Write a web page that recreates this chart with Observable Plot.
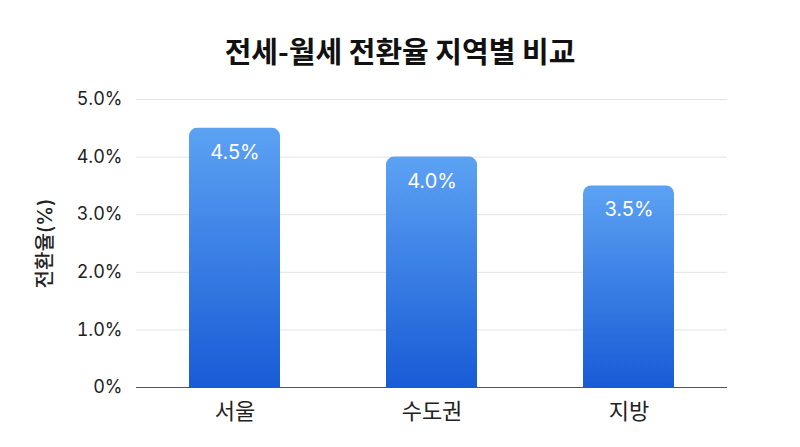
<!DOCTYPE html>
<html><head><meta charset="utf-8">
<script src="https://cdn.jsdelivr.net/npm/d3@7"></script>
<script src="https://cdn.jsdelivr.net/npm/@observablehq/plot@0.6"></script>
<style>
body{margin:0;background:#fff;font-family:"Noto Sans CJK KR","Noto Sans",sans-serif;}
#title{height:64px;padding-top:18px;line-height:64px;text-align:center;font-size:29px;font-weight:700;color:#111;}
</style></head><body>
<div id="title">전세-월세 전환율 지역별 비교</div>
<div id="chart"></div>
<script>
const regions = ["서울", "수도권", "지방"];
const rates = [4.5, 4.0, 3.5];
const yTicks = [0, 1, 2, 3, 4, 5];
const data = regions.map((r, i) => ({region: r, rate: rates[i]}));

const plot = Plot.plot({
  width: 800, height: 365,
  marginLeft: 136, marginRight: 73, marginTop: 17, marginBottom: 60,
  style: {fontFamily: 'Inter,"Noto Sans CJK KR","Noto Sans",sans-serif', fontSize: "18px", color: "#222"},
  x: {domain: regions, paddingInner: 0.54, paddingOuter: 0.27, label: null},
  y: {domain: [0, 5], label: null},
  marks: [
    Plot.ruleY(yTicks.filter(d => d > 0), {stroke: "#e3e3e3", strokeWidth: 1}),
    Plot.axisY({ticks: yTicks, tickSize: 0, tickPadding: 14,
      tickFormat: d => d === 0 ? "0%" : d.toFixed(1) + "%"}),
    Plot.axisX({tickSize: 0, tickPadding: 16}),
    Plot.text(["전환율(%)"], {frameAnchor: "left", dx: -91, rotate: -90, textAnchor: "middle", fontSize: 20, fontWeight: 500, fill: "#222"}),
    Plot.barY(data, {x: "region", y: "rate", fill: "url(#barGrad)", ry1: 8, rx: 0}),
    Plot.ruleY([0], {stroke: "#555", strokeWidth: 1.2}),
    Plot.text(data, {x: "region", y: "rate", text: d => d.rate.toFixed(1) + "%", dy: 24, fill: "#fff", fontSize: 20})
  ]
});
d3.select(plot).selectAll('[aria-label="x-axis tick label"]').attr("font-size", 22);
d3.select(plot).selectAll('[aria-label="y-axis tick label"]').attr("font-size", 18);
const defs = d3.select(plot).insert("defs", ":first-child");
const g = defs.append("linearGradient").attr("id", "barGrad").attr("x1", 0).attr("y1", 0).attr("x2", 0).attr("y2", 1);
g.append("stop").attr("offset", "0%").attr("stop-color", "#5ca2f3");
g.append("stop").attr("offset", "100%").attr("stop-color", "#185bd6");
document.getElementById("chart").appendChild(plot);
</script>
</body></html>
